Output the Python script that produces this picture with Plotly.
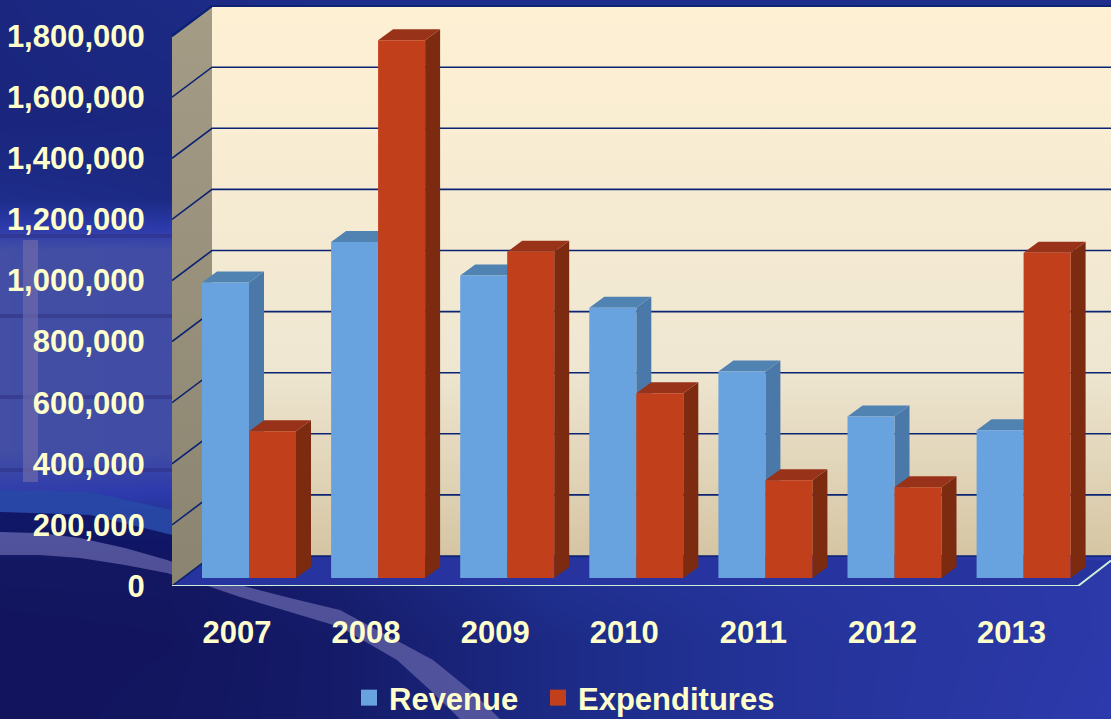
import plotly.graph_objects as go

# Chart data
years = ["2007", "2008", "2009", "2010", "2011", "2012", "2013"]
revenue = [967000, 1100000, 990000, 885000, 676000, 529000, 484000]
expenditures = [480000, 1760000, 1068000, 605000, 320000, 297000, 1065000]
y_ticks = [0, 200000, 400000, 600000, 800000, 1000000, 1200000, 1400000, 1600000, 1800000]

# Fake 3D geometry, in axis units
PX_X = 129.1
PX_Y = 61.1 / 200000
FLOOR_DX = 40 / PX_X
FLOOR_DY = 30 / PX_Y
BAR_SHIFT = 12 / PX_X
BAR_LIFT = 8 / PX_Y
BAR_W = 47 / PX_X
BAR_DX = 15 / PX_X
BAR_DY = 11 / PX_Y
X_MIN = (172 - 237) / PX_X
X_MAX = (1111 - 237) / PX_X
X_FRONT_END = (1078 - 237) / PX_X
Y_MAX = 586 / PX_Y

FONT = "Liberation Sans"
TEXT = "#FFFFCC"
NAVY = "#0B2373"

# Background colour field (scalar picked from the colorscale below)
bg_x = [0, 170, 340, 550, 800, 1111]
bg_y = [0, 120, 200, 250, 450, 500, 560, 640, 719]
bg_z = [
    [0.26, 0.30, 0.34, 0.34, 0.34, 0.36],
    [0.24, 0.26, 0.32, 0.34, 0.34, 0.38],
    [0.34, 0.30, 0.32, 0.34, 0.36, 0.42],
    [0.84, 0.82, 0.34, 0.36, 0.40, 0.46],
    [0.84, 0.82, 0.36, 0.38, 0.44, 0.50],
    [0.60, 0.55, 0.36, 0.40, 0.46, 0.54],
    [0.05, 0.05, 0.16, 0.40, 0.50, 0.58],
    [0.02, 0.03, 0.10, 0.30, 0.46, 0.58],
    [0.02, 0.04, 0.10, 0.30, 0.46, 0.60],
]
bg_scale = [[0, "#11135A"], [0.35, "#1E2E8C"], [0.6, "#2D3AAC"], [1, "#515C9E"]]

# Swoosh and fence shapes seen behind the chart, page pixels
arc_x = [0, 40, 80, 125, 167, 205, 240, 290, 340, 433, 470, 500,
         460, 430, 397, 340, 290, 240, 205, 167, 125, 80, 40, 0]
arc_y = [532, 533, 538, 548, 560, 573, 585, 598, 610, 660, 690, 719,
         719, 690, 660, 627, 612, 597, 585, 573, 565, 558, 555, 555]
blue_band_x = [0, 90, 172, 172, 90, 0]
blue_band_y = [490, 492, 510, 535, 515, 512]
dark_band_x = [0, 90, 172, 172, 80, 0]
dark_band_y = [512, 515, 535, 560, 538, 532]
rail_rows = [236, 316, 397, 470]
post_x = [23, 38, 38, 23]
post_y = [240, 240, 482, 482]

fig = go.Figure()

# Page background on its own full page axes
fig.add_trace(go.Heatmap(x=bg_x, y=bg_y, z=bg_z, colorscale=bg_scale, zmin=0, zmax=1,
                         zsmooth="best", showscale=False, hoverinfo="skip",
                         xaxis="x", yaxis="y"))
fig.add_trace(go.Scatter(x=blue_band_x, y=blue_band_y, fill="toself", fillcolor="rgba(40,72,165,0.9)",
                         mode="none", showlegend=False, hoverinfo="skip", xaxis="x", yaxis="y"))
fig.add_trace(go.Scatter(x=dark_band_x, y=dark_band_y, fill="toself", fillcolor="rgba(16,22,100,0.95)",
                         mode="none", showlegend=False, hoverinfo="skip", xaxis="x", yaxis="y"))
fig.add_trace(go.Scatter(x=arc_x, y=arc_y, fill="toself", fillcolor="rgba(95,95,165,0.8)",
                         mode="none", showlegend=False, hoverinfo="skip", xaxis="x", yaxis="y"))
for row in rail_rows:
    fig.add_trace(go.Scatter(x=[0, 172], y=[row, row], mode="lines",
                             line=dict(color="rgba(45,45,125,0.45)", width=4),
                             showlegend=False, hoverinfo="skip", xaxis="x", yaxis="y"))
fig.add_trace(go.Scatter(x=post_x, y=post_y, fill="toself", fillcolor="rgba(110,105,170,0.7)",
                         mode="none", showlegend=False, hoverinfo="skip", xaxis="x", yaxis="y"))


def poly(xs, ys, color, **kw):
    fig.add_trace(go.Scatter(x=xs, y=ys, fill="toself", fillcolor=color, mode="none",
                             showlegend=False, hoverinfo="skip", xaxis="x2", yaxis="y2", **kw))


def line(xs, ys, color, width):
    fig.add_trace(go.Scatter(x=xs, y=ys, mode="lines", line=dict(color=color, width=width),
                             showlegend=False, hoverinfo="skip", xaxis="x2", yaxis="y2"))


# Walls and floor
back_left = X_MIN + FLOOR_DX
poly([back_left, X_MAX, X_MAX, back_left], [FLOOR_DY, FLOOR_DY, 1800000 + FLOOR_DY, 1800000 + FLOOR_DY], None,
     fillgradient=dict(type="vertical",
                       colorscale=[[0, "#D5C5A3"], [0.35, "#EFE7D2"], [1, "#FEF0D3"]]))
poly([X_MIN, back_left, back_left, X_MIN], [0, FLOOR_DY, 1800000 + FLOOR_DY, 1800000], None,
     fillgradient=dict(type="vertical",
                       colorscale=[[0, "#8A8470"], [1, "#A59C86"]]))
poly([X_MIN, X_FRONT_END, X_MAX, back_left], [0, 0, FLOOR_DY * 0.85, FLOOR_DY], "#27349F")

for v in y_ticks:
    line([X_MIN, back_left, X_MAX], [v, v + FLOOR_DY, v + FLOOR_DY], NAVY, 1.6)
line([X_MIN, back_left], [1800000, 1800000 + FLOOR_DY], NAVY, 2)
line([X_MIN, X_FRONT_END, X_MAX], [0, 0, FLOOR_DY * 0.85], "#CDEFD9", 2)

# Depth faces of the bars, drawn under the fronts
for offset, values, side, top in [(-BAR_W, revenue, "#4A78A8", "#5082B2"),
                                  (0, expenditures, "#7C2A10", "#98331A")]:
    for i, v in enumerate(values):
        left = i + BAR_SHIFT + offset
        right = left + BAR_W
        head = BAR_LIFT + v
        poly([right, right + BAR_DX, right + BAR_DX, right],
             [BAR_LIFT, BAR_LIFT + BAR_DY, head + BAR_DY, head], side)
        poly([left, left + BAR_DX, right + BAR_DX, right],
             [head, head + BAR_DY, head + BAR_DY, head], top)

# Bar fronts
fig.add_trace(go.Bar(x=[i + BAR_SHIFT - BAR_W / 2 for i in range(len(years))], y=revenue, base=BAR_LIFT,
                     width=BAR_W, marker=dict(color="#68A3DF", opacity=1, line_width=0), showlegend=False,
                     xaxis="x3", yaxis="y3"))
fig.add_trace(go.Bar(x=[i + BAR_SHIFT + BAR_W / 2 for i in range(len(years))], y=expenditures, base=BAR_LIFT,
                     width=BAR_W, marker=dict(color="#C23F1B", opacity=1, line_width=0), showlegend=False,
                     xaxis="x3", yaxis="y3"))

# Legend entries, one legend each so the gap between them can be set
fig.add_trace(go.Scatter(x=[None], y=[None], mode="markers", name="Revenue", legend="legend",
                         marker=dict(symbol="square", size=16, color="#68A3DF"), xaxis="x3", yaxis="y3"))
fig.add_trace(go.Scatter(x=[None], y=[None], mode="markers", name="Expenditures", legend="legend2",
                         marker=dict(symbol="square", size=16, color="#C23F1B"), xaxis="x3", yaxis="y3"))

tick_font = dict(family=FONT, size=31, color=TEXT, weight="bold")
legend_font = dict(family=FONT, size=31, color=TEXT, weight="bold")
hidden = dict(visible=False, showgrid=False, zeroline=False)

fig.update_layout(
    width=1111,
    height=719,
    margin=dict(l=0, r=0, t=0, b=0, autoexpand=False),
    paper_bgcolor="#1E2E8C",
    plot_bgcolor="rgba(0,0,0,0)",
    barmode="overlay",
    xaxis=dict(domain=[0, 1], range=[0, 1111], **hidden),
    yaxis=dict(domain=[0, 1], range=[719, 0], **hidden),
    xaxis2=dict(domain=[172 / 1111, 1], range=[X_MIN, X_MAX], anchor="y2", showgrid=False, zeroline=False,
                showline=False, tickmode="array", tickvals=list(range(len(years))), ticktext=years,
                ticks="outside", ticklen=19, tickcolor="rgba(0,0,0,0)", tickfont=tick_font),
    yaxis2=dict(domain=[133 / 719, 1], range=[0, Y_MAX], anchor="x2", showgrid=False, zeroline=False,
                showline=False, tickmode="array", tickvals=y_ticks, tickformat=",d",
                ticks="outside", ticklen=20, tickcolor="rgba(0,0,0,0)", tickfont=tick_font),
    xaxis3=dict(overlaying="x2", range=[X_MIN, X_MAX], anchor="y3", **hidden),
    yaxis3=dict(overlaying="y2", range=[0, Y_MAX], anchor="x3", **hidden),
    legend=dict(orientation="h", x=349 / 1111, xanchor="left", y=21 / 719, yanchor="middle",
                bgcolor="rgba(0,0,0,0)", font=legend_font, itemwidth=30),
    legend2=dict(orientation="h", x=538 / 1111, xanchor="left", y=21 / 719, yanchor="middle",
                 bgcolor="rgba(0,0,0,0)", font=legend_font, itemwidth=30),
)

fig.write_html("out.html", config=dict(displayModeBar=False),
               post_script="document.body.style.margin='0';")
